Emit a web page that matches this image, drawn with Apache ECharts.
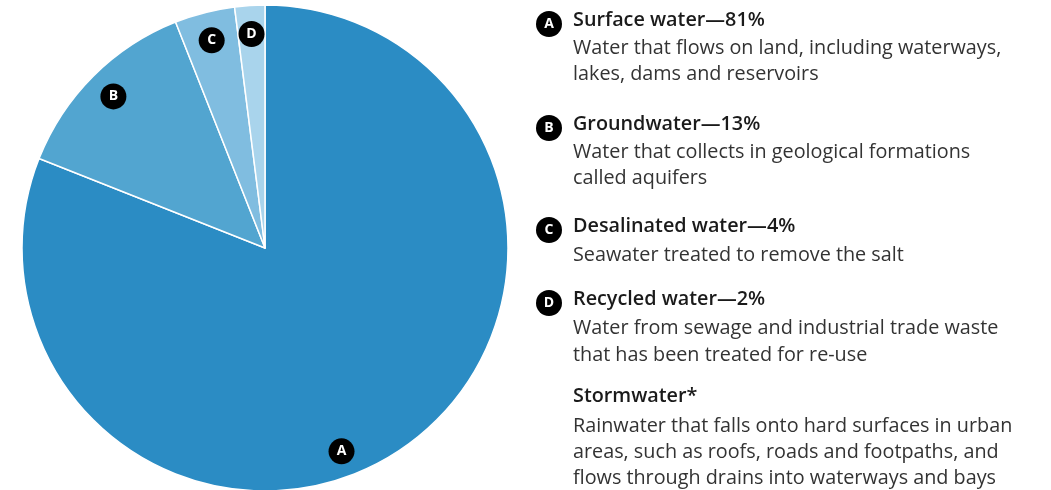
<!DOCTYPE html>
<html><head><meta charset="utf-8">
<script src="https://cdn.jsdelivr.net/npm/echarts@6/dist/echarts.min.js"></script>
<style>html,body{margin:0;padding:0;background:#fff}#c{width:1051px;height:490px}</style>
</head><body><div id="c"></div>
<script>
const letters = ['A','B','C','D'];
const categories = ['Surface water','Groundwater','Desalinated water','Recycled water'];
const values = [81, 13, 4, 2];
const colors = ['#2b8cc4','#52a5d0','#80bde0','#a9d4ec'];
const descriptions = [
  ['Water that flows on land, including waterways,','lakes, dams and reservoirs'],
  ['Water that collects in geological formations','called aquifers'],
  ['Seawater treated to remove the salt'],
  ['Water from sewage and industrial trade waste','that has been treated for re-use']
];
const extraTitle = 'Stormwater*';
const extraDesc = ['Rainwater that falls onto hard surfaces in urban','areas, such as roofs, roads and footpaths, and','flows through drains into waterways and bays'];

const FONT = '"Open Sans", sans-serif';
const cx = 265, cy = 248, R = 243;
const titleY = [20, 124, 226, 299];
const descY = [[48, 74],[152,178],[255],[328,355]];
const stormY = 396, stormDescY = [426, 452, 478];
const textX = 573, circX = 549;
const FS = 19.8;

const graphic = [];
categories.forEach((c, i) => {
  graphic.push({type:'circle', shape:{cx:circX, cy:titleY[i]+4, r:13}, style:{fill:'#000'}});
  graphic.push({type:'text', x:circX, y:titleY[i]+4, style:{text:letters[i], fill:'#fff', font:'bold 14px '+FONT, textAlign:'center', textVerticalAlign:'middle'}});
  graphic.push({type:'text', x:textX, y:titleY[i], style:{text:c+'\u2014'+values[i]+'%', fill:'#1a1a1a', font:'600 '+FS+'px '+FONT, textVerticalAlign:'middle'}});
  descriptions[i].forEach((d, j) => {
    graphic.push({type:'text', x:textX, y:descY[i][j], style:{text:d, fill:'#333', font:FS+'px '+FONT, textVerticalAlign:'middle'}});
  });
});
graphic.push({type:'text', x:textX, y:stormY, style:{text:extraTitle, fill:'#1a1a1a', font:'600 '+FS+'px '+FONT, textVerticalAlign:'middle'}});
extraDesc.forEach((d, j) => {
  graphic.push({type:'text', x:textX, y:stormDescY[j], style:{text:d, fill:'#333', font:FS+'px '+FONT, textVerticalAlign:'middle'}});
});

const labelOffsets = [[-44, 26],[0,0],[0,0],[0,0]];
const chart = echarts.init(document.getElementById('c'), null, {renderer:'canvas'});
chart.setOption({
  animation:false,
  series:[
    {
      type:'pie', center:[cx, cy], radius:[0, R], startAngle:90, clockwise:true,
      label:{show:false}, labelLine:{show:false}, silent:true,
      itemStyle:{borderColor:'#fff', borderWidth:1.5},
      data: categories.map((c,i)=>({name:c, value:values[i], itemStyle:{color:colors[i]}}))
    },
    {
      type:'pie', center:[cx, cy], radius:[R*0.74, R], startAngle:90, clockwise:true,
      silent:true, labelLine:{show:false},
      itemStyle:{color:'rgba(0,0,0,0)'},
      label:{show:true, position:'inside', formatter:p=>letters[p.dataIndex],
        color:'#fff', fontFamily:FONT, fontWeight:'bold', fontSize:14,
        backgroundColor:'#000', width:26, height:26, lineHeight:26, borderRadius:13, align:'center', verticalAlign:'middle'},
      data: categories.map((c,i)=>({name:c, value:values[i], label:{offset:labelOffsets[i]}}))
    }
  ],
  graphic: graphic
});
</script></body></html>
